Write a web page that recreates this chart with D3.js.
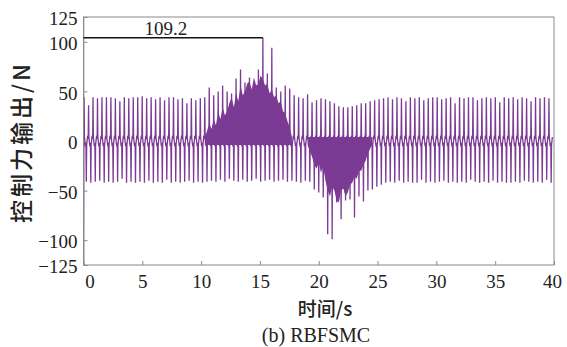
<!DOCTYPE html>
<html>
<head>
<meta charset="utf-8">
<script src="https://cdn.jsdelivr.net/npm/d3@7/dist/d3.min.js"></script>
<style>
  body { margin: 0; background: #fff; }
  svg { display: block; }
</style>
</head>
<body>
<div id="chart"></div>
<script>
const W = 567, H = 347;
const MARGIN = { top: 17, right: 13, bottom: 82, left: 83.5 };
const SERIF = "'Liberation Serif', 'Times New Roman', serif";
const CJK = "'Noto Sans CJK SC', sans-serif";

// x: cycle time = T_START + index * PERIOD (seconds)
const T_START = 0.05;
const PERIOD = 0.38;

// positive spike tip of each cycle (N)
const POS_PEAK = [
  44, 36, 44, 43, 44, 44, 44, 43, 40, 44, 43, 44, 44, 45, 43, 44, 42, 44, 41, 44,
  44, 42, 43, 38, 43, 41, 43, 44,
  54, 46, 50, 56, 50, 48, 63, 72, 59, 64, 58, 72, 104, 68, 94, 54, 50, 56, 53, 46, 44,
  43, 47, 39, 41, 43, 42, 40, 38, 35, 34, 34, 35, 36, 38, 38, 40, 41, 42,
  43, 44, 42, 44, 43, 40, 44, 43, 44, 41, 43, 44, 44, 42, 43, 44, 38, 44, 43, 44,
  44, 41, 43, 44, 43, 44, 39, 44, 43, 44, 42, 44, 43, 40, 44, 43, 44, 43
];
// negative spike tip of each cycle (N)
const NEG_PEAK = [
  -41, -42, -41, -40, -42, -41, -42, -41, -38, -42, -41, -42, -41, -42, -40, -42, -41, -42, -39, -42,
  -41, -42, -41, -40, -42, -41, -42, -41,
  -40, -41, -39, -41, -38, -40, -41, -39, -41, -40, -38, -41, -40, -39, -41, -40, -39, -41, -40, -41,
  -42, -40, -41,
  -49, -52, -57, -94, -99, -62, -79, -60, -59, -77, -56, -61, -50, -49, -46, -44,
  -42, -41, -42, -40, -42, -41, -42, -42, -39, -42, -41, -42, -41, -40, -42, -41, -42, -41, -42, -39,
  -41, -42, -41, -42, -40, -42, -41, -42, -42, -41, -42, -40, -41, -42, -41, -42, -39, -42
];
// small ripple around zero between spikes (N)
const RIPPLE = [4, -4, 3, -3];

// dense chattering bands: envelope, two readings per cycle
const UP_CHATTER_START = 27;
const UP_CHATTER = [
  4, 10, 18, 12, 22, 16, 30, 22, 34, 26, 30, 38, 44, 34, 48, 40, 56, 46, 50, 58,
  60, 52, 64, 56, 58, 66, 62, 56, 58, 48, 52, 44, 46, 38, 40, 30, 28, 20, 14, 4
];
const DOWN_CHATTER_START = 50;
const DOWN_CHATTER = [
  -4, -10, -16, -24, -28, -22, -32, -26, -40, -50, -56, -46, -50, -60, -62, -50,
  -48, -56, -52, -44, -42, -36, -38, -30, -30, -24, -20, -12, -8, -2
];

// start-up transient at t = 0
const TRANSIENT = [[0, 0], [0.005, 130], [0.015, -130], [0.03, 0]];

const PEAK_INDEX = 40;
const PEAK_LABEL = "109.2";
const PEAK_LABEL_T = 7;

const X_TICKS = [0, 5, 10, 15, 20, 25, 30, 35, 40];
const Y_TICKS = [-125, -100, -50, 0, 50, 100, 125];

const X_LABEL = "时间/s";
const Y_LABEL = "控制力输出/N";
const CAPTION = "(b) RBFSMC";

const LINE_COLOR = "#7b3a93";

const x = d3.scaleLinear().domain([0, 40]).range([MARGIN.left, W - MARGIN.right]);
const y = d3.scaleLinear().domain([-125, 125]).range([H - MARGIN.bottom, MARGIN.top]);

const svg = d3.select("#chart").append("svg").attr("width", W).attr("height", H);

svg.append("clipPath").attr("id", "plot-clip")
  .append("rect")
  .attr("x", x(0)).attr("y", y(125))
  .attr("width", x(40) - x(0)).attr("height", y(-125) - y(125));

const plot = svg.append("g").attr("clip-path", "url(#plot-clip)");

const cycleTime = (i) => T_START + i * PERIOD;

// build the waveform from the per-cycle tips
const points = TRANSIENT.slice();
POS_PEAK.forEach((p, i) => {
  const t = cycleTime(i);
  points.push([t - 0.03, RIPPLE[2]]);
  points.push([t, p]);
  points.push([t + 0.03, RIPPLE[0]]);
  points.push([t + 0.1, RIPPLE[1]]);
  points.push([t + 0.16, RIPPLE[3]]);
  points.push([t + 0.19, NEG_PEAK[i]]);
  points.push([t + 0.22, RIPPLE[1]]);
  points.push([t + 0.29, RIPPLE[0]]);
});

const area = d3.area().x((d) => x(d[0])).y0((d) => y(d[1])).y1((d) => y(d[2]));
const halfStep = (start, j) => cycleTime(start + Math.floor(j / 2)) + (j % 2) * PERIOD / 2;
const upBand = UP_CHATTER.map((v, j) => [halfStep(UP_CHATTER_START, j), -4, v]);
const downBand = DOWN_CHATTER.map((v, j) => [halfStep(DOWN_CHATTER_START, j), v, 4]);
plot.append("path").datum(upBand).attr("d", area).attr("fill", LINE_COLOR);
plot.append("path").datum(downBand).attr("d", area).attr("fill", LINE_COLOR);

const line = d3.line().x((d) => x(d[0])).y((d) => y(d[1]));
plot.append("path").datum(points)
  .attr("d", line)
  .attr("fill", "none")
  .attr("stroke", LINE_COLOR)
  .attr("stroke-width", 1.3);

// frame
svg.append("rect")
  .attr("x", x(0)).attr("y", y(125))
  .attr("width", x(40) - x(0)).attr("height", y(-125) - y(125))
  .attr("fill", "none").attr("stroke", "#8a8a8a").attr("stroke-width", 1);

// axes (ticks pointing inward)
const xAxis = d3.axisBottom(x).tickValues(X_TICKS).tickSize(-4).tickPadding(10).tickFormat(d3.format("d"));
const gx = svg.append("g").attr("transform", `translate(0,${y(-125)})`)
  .call(xAxis)
  .attr("font-family", SERIF).attr("font-size", 19);
gx.select(".domain").remove();
gx.selectAll(".tick line").attr("stroke", "#8a8a8a");
gx.selectAll(".tick text")
  .attr("fill", "#222")
  .attr("dy", "0.71em")
  .attr("dx", (d) => (d === 0 ? 6 : d === 40 ? -2 : 0));

const yAxis = d3.axisLeft(y).tickValues(Y_TICKS).tickSize(-4).tickPadding(6)
  .tickFormat((d) => (d < 0 ? "\u2212" + Math.abs(d) : String(d)));
const gy = svg.append("g").attr("transform", `translate(${x(0)},0)`)
  .call(yAxis)
  .attr("font-family", SERIF).attr("font-size", 19);
gy.select(".domain").remove();
gy.selectAll(".tick line").attr("stroke", "#8a8a8a");
gy.selectAll(".tick text").attr("fill", "#222").attr("dy", "0.4em");

// peak annotation
const peakT = cycleTime(PEAK_INDEX);
const peakV = POS_PEAK[PEAK_INDEX];
svg.append("line")
  .attr("x1", x(0)).attr("x2", x(peakT))
  .attr("y1", y(peakV)).attr("y2", y(peakV))
  .attr("stroke", "#111").attr("stroke-width", 1.5);
svg.append("text")
  .attr("x", x(PEAK_LABEL_T)).attr("y", y(peakV) - 3)
  .attr("text-anchor", "middle")
  .attr("font-family", SERIF).attr("font-size", 19).attr("fill", "#222")
  .text(PEAK_LABEL);

// titles
svg.append("text")
  .attr("x", 325).attr("y", 316)
  .attr("text-anchor", "middle")
  .style("font-family", CJK)
  .style("font-size", "19px").style("font-weight", 500).style("fill", "#222")
  .text(X_LABEL);

svg.append("text")
  .attr("transform", `translate(30,${(y(125) + y(-125)) / 2 + 1}) rotate(-90)`)
  .attr("text-anchor", "middle")
  .style("font-family", CJK)
  .style("font-size", "23px").style("font-weight", 500).style("fill", "#222")
  .style("letter-spacing", "3px")
  .text(Y_LABEL);

svg.append("text")
  .attr("x", 316).attr("y", 342)
  .attr("text-anchor", "middle")
  .style("font-family", SERIF)
  .style("font-size", "20px").style("fill", "#222")
  .text(CAPTION);
</script>
</body>
</html>
